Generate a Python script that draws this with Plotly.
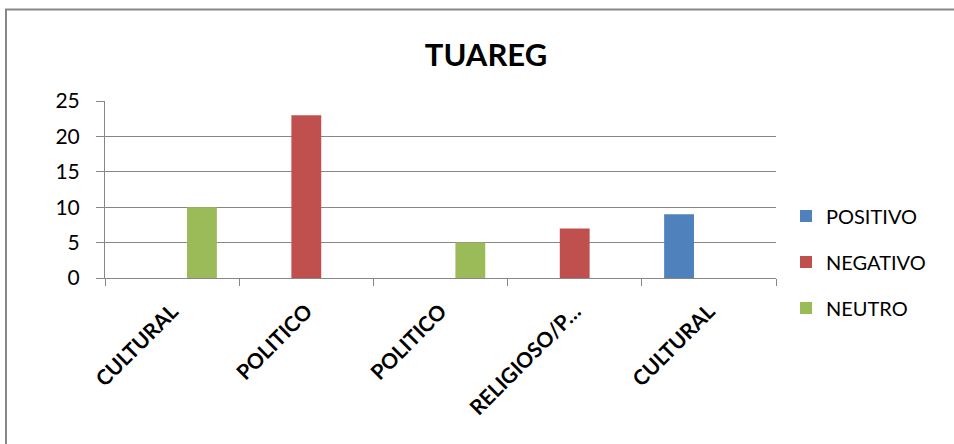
import plotly.graph_objects as go

categories = ["CULTURAL", "POLITICO", "POLITICO", "RELIGIOSO/P…", "CULTURAL"]
positivo = [None, None, None, None, 9]
negativo = [None, 23, None, 7, None]
neutro = [10, None, 5, None, None]
y_ticks = [0, 5, 10, 15, 20, 25]

FONT = "Lato"
GRAY = "#878787"
x = list(range(len(categories)))

fig = go.Figure()
series = [("POSITIVO", positivo, "#4F81BD"),
          ("NEGATIVO", negativo, "#C0504D"),
          ("NEUTRO", neutro, "#9BBB59")]
for name, vals, col in series:
    fig.add_trace(go.Bar(x=x, y=vals, name=name, marker=dict(color=col, line=dict(width=0)),
                         legendgroup=name))

W, H = 954, 444
L, R, T, B = 105, 178, 101, 166
pw, ph = W - L - R, H - T - B

def px_x(p):
    return (p - L) / pw

def px_y(p):
    return (H - B - p) / ph

fig.update_layout(
    width=W, height=H,
    margin=dict(l=L, r=R, t=T, b=B),
    paper_bgcolor="white", plot_bgcolor="white",
    barmode="group", bargap=0.333, bargroupgap=0,
    font=dict(family=FONT, color="black"),
    title=dict(text="<b>TUAREG</b>", x=486 / W, xanchor="center", y=1 - 55 / H, yanchor="middle",
               xref="container", yref="container", font=dict(size=31, family=FONT, color="black")),
    legend=dict(x=px_x(786), xanchor="left", y=px_y(262), yanchor="middle",
                font=dict(size=20, family=FONT), tracegroupgap=17, traceorder="grouped",
                bgcolor="rgba(0,0,0,0)"),
    xaxis=dict(range=[-0.5, 4.5], tickmode="array", tickvals=x,
               ticktext=["<b>%s</b>" % c for c in categories],
               tickangle=-45, tickfont=dict(size=21, family=FONT),
               showline=True, linecolor=GRAY, linewidth=1, ticks="", showgrid=False,
               zeroline=False, ticklabelstandoff=12,
               minor=dict(tickmode="array", tickvals=[i - 0.5 for i in range(len(categories) + 1)],
                          ticks="outside", ticklen=7, tickcolor=GRAY, showgrid=False)),
    yaxis=dict(range=[0, 25], tickmode="array", tickvals=y_ticks, showgrid=True, gridcolor=GRAY,
               gridwidth=1, showline=True, linecolor=GRAY, linewidth=1, ticks="outside",
               ticklen=8, tickcolor=GRAY, tickfont=dict(size=21, family=FONT), zeroline=False,
               ticklabelstandoff=12),
    shapes=[dict(type="rect", xref="paper", yref="paper",
                 x0=px_x(6), x1=px_x(970), y0=px_y(470), y1=px_y(9.5),
                 line=dict(color=GRAY, width=2), fillcolor="rgba(0,0,0,0)", layer="below")],
)

fig.write_html("out.html", config={"displayModeBar": False},
               post_script="document.body.style.margin='0';document.body.style.overflow='hidden';")
